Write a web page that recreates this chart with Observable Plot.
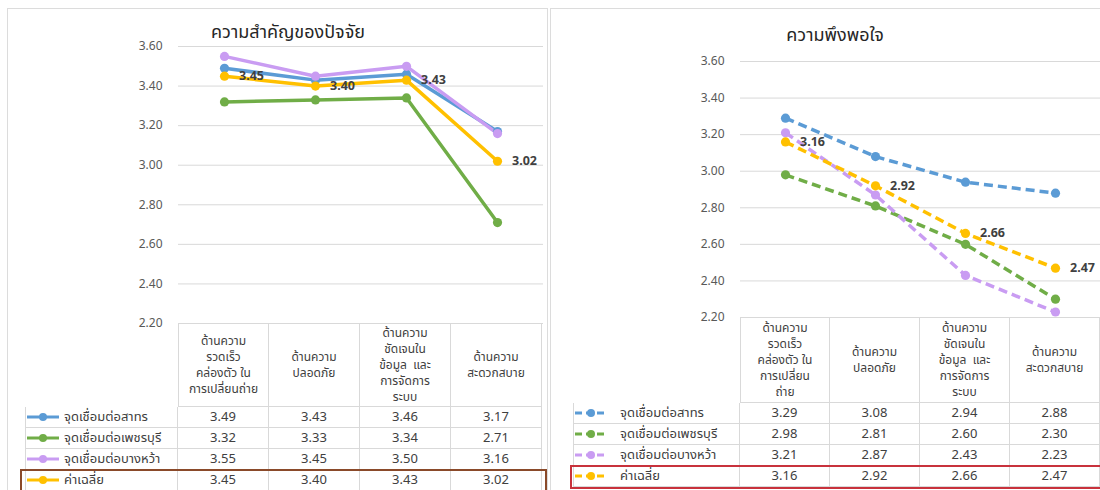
<!DOCTYPE html>
<html>
<head>
<meta charset="utf-8">
<script src="https://cdn.jsdelivr.net/npm/d3@7"></script>
<script src="https://cdn.jsdelivr.net/npm/@observablehq/plot@0.6"></script>
<style>
  html, body { margin:0; padding:0; background:#fff; }
  body { width:1100px; height:490px; overflow:hidden; position:relative;
         font-family: "Noto Sans Thai", Tahoma, "Leelawadee UI", "DejaVu Sans", sans-serif; color:#404040; }
  .panel { position:absolute; border:1px solid #dcdcdc; box-sizing:border-box; overflow:hidden; background:#fff; }
  .title { position:absolute; font-size:18px; color:#262626; white-space:nowrap; transform:translate(-50%,-50%); }
  .chart { position:absolute; left:0; top:0; }
  .cell { position:absolute; box-sizing:border-box; display:flex; align-items:center; justify-content:center;
          text-align:center; font-size:13px; line-height:16px; color:#404040; white-space:pre; }
  .hdr { font-size:12px; line-height:16px; }
  .b { border-right:1px solid #d9d9d9; border-bottom:1px solid #d9d9d9; }
  .leg { justify-content:flex-start; }
  .hl { position:absolute; box-sizing:border-box; pointer-events:none; }
</style>
</head>
<body>
<script>
// ---------- data ----------
const seriesNames = ["จุดเชื่อมต่อสาทร", "จุดเชื่อมต่อเพชรบุรี", "จุดเชื่อมต่อบางหว้า", "ค่าเฉลี่ย"];
const seriesColors = ["#5B9BD5", "#70AD47", "#C99CF2", "#FFC000"];

const leftTitle = "ความสำคัญของปัจจัย";
const leftCategories = [
  "ด้านความ\nรวดเร็ว\nคล่องตัว ใน\nการเปลี่ยนถ่าย",
  "ด้านความ\nปลอดภัย",
  "ด้านความ\nชัดเจนใน\nข้อมูล  และ\nการจัดการ\nระบบ",
  "ด้านความ\nสะดวกสบาย"
];
const leftSathorn     = [3.49, 3.43, 3.46, 3.17];
const leftPhetchaburi = [3.32, 3.33, 3.34, 2.71];
const leftBangwa      = [3.55, 3.45, 3.50, 3.16];
const leftAverage     = [3.45, 3.40, 3.43, 3.02];

const rightTitle = "ความพึงพอใจ";
const rightCategories = [
  "ด้านความ\nรวดเร็ว\nคล่องตัว ใน\nการเปลี่ยน\nถ่าย",
  "ด้านความ\nปลอดภัย",
  "ด้านความ\nชัดเจนใน\nข้อมูล  และ\nการจัดการ\nระบบ",
  "ด้านความ\nสะดวกสบาย"
];
const rightSathorn     = [3.29, 3.08, 2.94, 2.88];
const rightPhetchaburi = [2.98, 2.81, 2.60, 2.30];
const rightBangwa      = [3.21, 2.87, 2.43, 2.23];
const rightAverage     = [3.16, 2.92, 2.66, 2.47];

const yTicks = [2.2, 2.4, 2.6, 2.8, 3.0, 3.2, 3.4, 3.6];

// ---------- helpers ----------
function toRows(categories, seriesArrays) {
  const rows = [];
  seriesArrays.forEach((vals, si) => {
    vals.forEach((v, ci) => rows.push({series: seriesNames[si], cat: categories[ci], value: v, si}));
  });
  return rows;
}

function buildPanel(cfg) {
  const panel = document.createElement("div");
  panel.className = "panel";
  Object.assign(panel.style, {left: cfg.left + "px", top: cfg.top + "px", width: cfg.width + "px", height: cfg.height + "px"});
  document.body.appendChild(panel);
  const ox = cfg.left + 1, oy = cfg.top + 1; // content origin in page coords

  const rows = toRows(cfg.categories, cfg.series);
  const avgRows = rows.filter(d => d.si === 3);

  const chart = Plot.plot({
    width: cfg.svgWidth,
    height: cfg.svgHeight,
    marginLeft: cfg.marginLeft,
    marginRight: cfg.marginRight,
    marginTop: cfg.marginTop,
    marginBottom: cfg.marginBottom,
    style: {fontFamily: "'Noto Sans', 'Open Sans', sans-serif", fontSize: "12px", color: "#595959", background: "transparent"},
    x: {type: "point", domain: cfg.categories, padding: 0.5, axis: null},
    y: {domain: [2.2, 3.6], ticks: yTicks, label: null},
    color: {domain: seriesNames, range: seriesColors},
    marks: [
      Plot.gridY(yTicks, {stroke: "#d9d9d9", strokeOpacity: 1, strokeWidth: 1}),
      Plot.axisY(yTicks, {tickSize: 0, tickPadding: 16, tickFormat: d3.format(".2f"), fill: "#595959", fontSize: 12, label: null}),
      Plot.line(rows, {x: "cat", y: "value", z: "series", stroke: "series", strokeWidth: 3.5,
                       strokeDasharray: cfg.dashed ? "9,5" : null, strokeLinecap: "butt"}),
      Plot.dot(rows, {x: "cat", y: "value", fill: "series", r: 4.6}),
      Plot.text(avgRows, {x: "cat", y: "value", text: d => d3.format(".2f")(d.value), dx: 27,
                          fontWeight: "bold", fontSize: 12.5, fill: "#404040"})
    ]
  });
  chart.classList.add("chart");
  panel.appendChild(chart);

  const t = document.createElement("div");
  t.className = "title";
  t.textContent = cfg.title;
  t.style.left = (cfg.titleX - ox) + "px";
  t.style.top = (cfg.titleY - oy) + "px";
  panel.appendChild(t);

  // data table aligned with the x scale
  const xs = chart.scale("x");
  const step = xs.step !== undefined ? xs.step : (cfg.plotRight - cfg.plotLeft) / cfg.categories.length;
  const tblTop = cfg.tableTop - oy;
  const legLeft = cfg.legendLeft - ox;
  const colLeft = cfg.marginLeft; // plot left within panel
  const headerH = cfg.headerH, rowH = cfg.rowH;

  function cell(x, y, w, h, html, cls) {
    const c = document.createElement("div");
    c.className = "cell " + (cls || "");
    Object.assign(c.style, {left: x + "px", top: y + "px", width: w + "px", height: h + "px"});
    c.innerHTML = html;
    panel.appendChild(c);
    return c;
  }
  // header cells
  cfg.categories.forEach((cat, i) => {
    const x = colLeft + i * step;
    const c = cell(x, tblTop, step, headerH, cat.split("\n").join("<br>"), "b hdr");
    c.style.borderTop = "1px solid #d9d9d9";
    c.style.background = "#fff";
    if (i === 0) c.style.borderLeft = "1px solid #d9d9d9";
  });
  // body rows
  seriesNames.forEach((name, si) => {
    const y = tblTop + headerH + si * rowH;
    const col = seriesColors[si];
    const dash = cfg.dashed ? 'stroke-dasharray="7,4"' : "";
    const sym = `<svg width="32" height="10" style="flex:none;margin-left:1px;margin-right:${cfg.legGap}px">` +
      `<line x1="0" y1="5" x2="32" y2="5" stroke="${col}" stroke-width="3" ${dash}/>` +
      `<circle cx="16" cy="5" r="4" fill="${col}"/></svg>`;
    const lc = cell(legLeft, y, colLeft - legLeft, rowH, sym + `<span>${name}</span>`, "b leg");
    lc.style.borderLeft = "1px solid #d9d9d9";
    cfg.series[si].forEach((v, ci) => {
      cell(colLeft + ci * step, y, step, rowH, d3.format(".2f")(v), "b");
    });
  });
  // highlight box around the average row
  const hl = document.createElement("div");
  hl.className = "hl";
  Object.assign(hl.style, {
    left: (cfg.hlLeft - ox) + "px", top: (tblTop + headerH + 3 * rowH - 1) + "px",
    width: (cfg.hlRight - cfg.hlLeft) + "px", height: (rowH + 3) + "px",
    border: "2px solid " + cfg.hlColor
  });
  panel.appendChild(hl);
}

buildPanel({
  left: 7, top: 8, width: 541, height: 500,
  title: leftTitle, titleX: 288, titleY: 32,
  categories: leftCategories,
  series: [leftSathorn, leftPhetchaburi, leftBangwa, leftAverage],
  dashed: false,
  svgWidth: 538, svgHeight: 326, marginLeft: 170, marginRight: 3, marginTop: 37, marginBottom: 12,
  plotLeft: 178, plotRight: 543,
  tableTop: 323, legendLeft: 25, headerH: 84, rowH: 21, legGap: 5,
  hlLeft: 20, hlRight: 547, hlColor: "#8A4A2A"
});

buildPanel({
  left: 550, top: 8, width: 570, height: 500,
  title: rightTitle, titleX: 835, titleY: 35,
  categories: rightCategories,
  series: [rightSathorn, rightPhetchaburi, rightBangwa, rightAverage],
  dashed: true,
  svgWidth: 549, svgHeight: 320, marginLeft: 189, marginRight: 0, marginTop: 52, marginBottom: 12,
  plotLeft: 740, plotRight: 1100,
  tableTop: 317, legendLeft: 573, headerH: 86, rowH: 21, legGap: 13,
  hlLeft: 570, hlRight: 1115, hlColor: "#C8323C"
});
</script>
</body>
</html>
